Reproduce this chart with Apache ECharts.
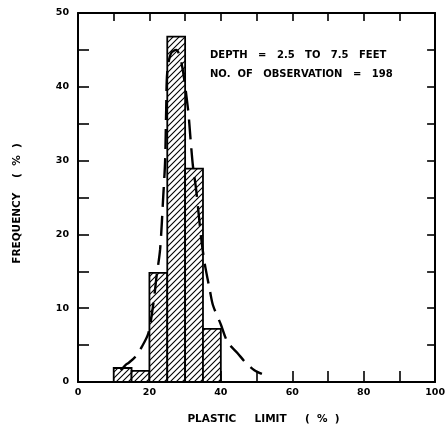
<!DOCTYPE html>
<html><head><meta charset="utf-8">
<script src="https://cdn.jsdelivr.net/npm/echarts@6/dist/echarts.min.js"></script>
<style>html,body{margin:0;padding:0;background:#fff}#c{width:448px;height:433px}</style>
</head><body><div id="c"></div><script>
// Histogram bins (plastic limit %) and frequency (%)
const binStart = [10, 15, 20, 25, 30, 35];
const binEnd   = [15, 20, 25, 30, 35, 40];
const frequency = [1.9, 1.5, 14.8, 46.8, 28.9, 7.2];
// Fitted (dashed) frequency curve
const curveX = [12, 13.3, 14.2, 16, 17.9, 19.7, 21.1, 22, 23, 23.9, 24.4, 24.7, 25, 26, 27.5, 29, 30.8, 31.5, 32.2, 33.1, 34.5, 35.5, 36.9, 37.8, 40, 41.9, 44.7, 47, 49.4, 51.5];
const curveY = [1.6, 2.3, 2.6, 3.4, 4.8, 6.6, 10.6, 14.3, 18, 25.4, 30, 37, 42, 44.5, 45, 43.2, 37, 33, 29.2, 26, 19.5, 16, 12.5, 10.4, 7.8, 5.4, 3.9, 2.6, 1.6, 1.1];
const xLabels = ['0', '20', '40', '60', '80', '100'];
const yLabels = ['0', '10', '20', '30', '40', '50'];
const annotation = ['DEPTH   =   2.5   TO   7.5   FEET', 'NO.  OF   OBSERVATION   =   198'];

const hatch = document.createElement('canvas');
hatch.width = 6; hatch.height = 6;
const hc = hatch.getContext('2d');
hc.fillStyle = '#fff'; hc.fillRect(0, 0, 6, 6);
hc.strokeStyle = '#000'; hc.lineWidth = 1.1;
hc.beginPath();
hc.moveTo(-1, 7); hc.lineTo(7, -1);
hc.moveTo(-1, 1); hc.lineTo(1, -1);
hc.moveTo(5, 7); hc.lineTo(7, 5);
hc.stroke();

const font = 'DejaVu Sans';
const chart = echarts.init(document.getElementById('c'), null, {renderer: 'canvas'});
const axisCommon = {
  axisLine: {show: true, onZero: false, lineStyle: {color: '#000', width: 2}},
  splitLine: {show: false},
  axisTick: {show: true, inside: true, length: 10, lineStyle: {color: '#000', width: 1.6}}
};
chart.setOption({
  animation: false,
  backgroundColor: '#fff',
  grid: {left: 78, right: 9, top: 13, bottom: 51, containLabel: false},
  xAxis: [
    Object.assign({}, axisCommon, {
      type: 'value', min: 0, max: 100, interval: 10, position: 'bottom',
      name: 'PLASTIC     LIMIT     (  %  )', nameLocation: 'middle', nameGap: 32,
      nameTextStyle: {fontFamily: font, fontWeight: 'bold', fontSize: 10.5, color: '#000', padding: [0, 0, 0, 14]},
      axisLabel: {margin: 6, fontFamily: font, fontWeight: 'bold', fontSize: 9.5, color: '#000',
        formatter: v => { const i = xLabels.indexOf(String(v)); return i >= 0 ? xLabels[i] : ''; }},
      axisTick: {show: true, inside: true, length: 11, lineStyle: {color: '#000', width: 1.6}}
    }),
    Object.assign({}, axisCommon, {
      type: 'value', min: 0, max: 100, interval: 10, position: 'top',
      axisLabel: {show: false},
      axisTick: {show: true, inside: true, length: 8, lineStyle: {color: '#000', width: 1.6}}
    })
  ],
  yAxis: [
    Object.assign({}, axisCommon, {
      type: 'value', min: 0, max: 50, interval: 5, position: 'left',
      name: 'FREQUENCY    (  %  )', nameLocation: 'middle', nameGap: 55, nameRotate: 90,
      nameTextStyle: {fontFamily: font, fontWeight: 'bold', fontSize: 10.5, color: '#000', padding: [0, 12, 0, 0]},
      axisLabel: {margin: 9, fontFamily: font, fontWeight: 'bold', fontSize: 9.5, color: '#000',
        formatter: v => { const i = yLabels.indexOf(String(v)); return i >= 0 ? yLabels[i] : ''; }},
      axisTick: {show: true, inside: true, length: 11, lineStyle: {color: '#000', width: 1.6}}
    }),
    Object.assign({}, axisCommon, {
      type: 'value', min: 0, max: 50, interval: 5, position: 'right',
      axisLabel: {show: false},
      axisTick: {show: true, inside: true, length: 8, lineStyle: {color: '#000', width: 1.6}}
    })
  ],
  graphic: [{
    type: 'group', left: 210, top: 50,
    children: annotation.map((t, i) => ({
      type: 'text', x: 0, y: i * 19,
      style: {text: t, fill: '#000', font: 'bold 10px "DejaVu Sans"'}
    }))
  }],
  series: [
    {
      type: 'custom', xAxisIndex: 0, yAxisIndex: 0, z: 2,
      data: binStart.map((s, i) => [s, binEnd[i], frequency[i]]),
      encode: {x: [0, 1], y: 2},
      renderItem: (params, api) => {
        const p0 = api.coord([api.value(0), api.value(2)]);
        const p1 = api.coord([api.value(1), 0]);
        return {
          type: 'rect',
          shape: {x: p0[0], y: p0[1], width: p1[0] - p0[0], height: p1[1] - p0[1]},
          style: {fill: {image: hatch, repeat: 'repeat'}, stroke: '#000', lineWidth: 1.8}
        };
      }
    },
    {
      type: 'line', xAxisIndex: 0, yAxisIndex: 0, z: 3,
      data: curveX.map((x, i) => [x, curveY[i]]),
      smooth: 0.3, symbol: 'none',
      lineStyle: {color: '#000', width: 2.4, type: [20, 9]}
    }
  ]
});
</script></body></html>
